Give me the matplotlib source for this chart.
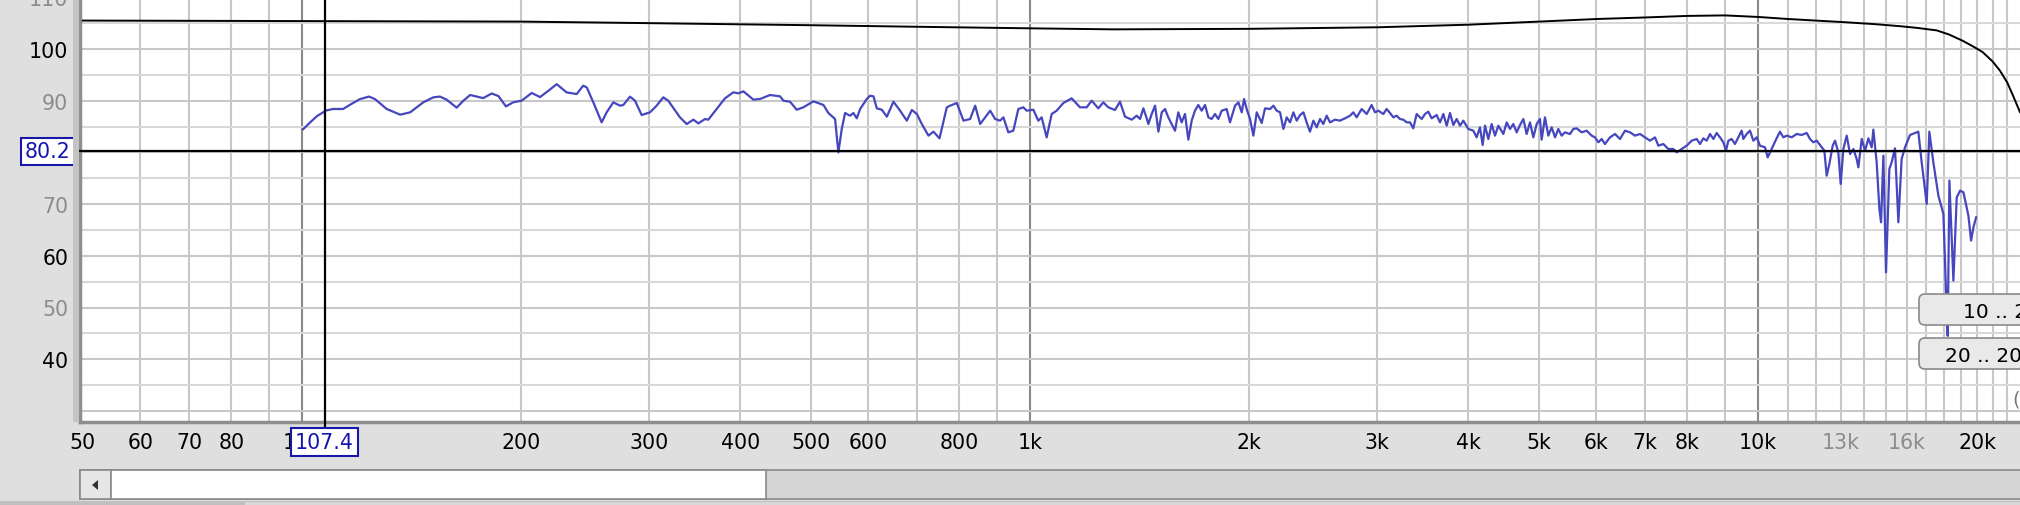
import numpy as np
import matplotlib.pyplot as plt
from matplotlib.patches import Rectangle, FancyBboxPatch, Polygon
from matplotlib.ticker import NullLocator
from matplotlib.transforms import IdentityTransform

W, H = 2020, 506

# Respuesta medida (azul): frecuencia en Hz, nivel en dB
freq_meas = [100.4, 102.6, 104.8, 107.9, 110.4, 113.9, 117.0, 120.1, 123.6, 126.0,
             130.7, 136.4, 140.8, 146.8, 151.5, 154.7, 158.0, 163.1, 166.6, 170.2,
             173.8, 177.4, 182.2, 186.1, 190.6, 195.1, 200.3, 206.8, 212.3, 217.9,
             223.8, 231.0,
             238.4, 243.4, 246.1, 251.3, 258.0, 262.1, 267.7, 273.4, 276.3, 282.2,
             286.7, 292.8, 300.6, 307.0, 313.5, 318.5, 330.5, 337.6, 344.8, 350.3,
             357.8, 361.5, 371.2, 381.1, 391.3, 397.6, 403.9, 416.9, 425.7, 439.5,
             453.6, 458.4, 468.1, 478.1, 488.3, 504.1, 520.3, 528.5, 539.8, 545.5,
             551.3, 557.2, 566.0, 572.0, 578.1, 584.3,
             596.8, 603.0, 609.5, 616.0, 625.8, 635.9, 649.3, 663.1, 677.3, 688.2,
             699.2, 710.2, 725.3, 736.9, 751.1, 768.6, 776.8, 793.4, 810.2, 827.5,
             840.8, 854.1, 881.7, 895.6, 909.6, 919.3, 933.7, 948.6, 963.8, 979.0,
             989.5, 1010.6, 1026.6, 1037.5, 1054.1, 1071.0, 1088.0, 1111.2, 1140.8, 1171.3,
             1196.3, 1215.4, 1241.4, 1260.9, 1281.1, 1308.5, 1329.2, 1350.6, 1379.4, 1401.3,
             1416.2,
             1431.3, 1446.5, 1454.1, 1469.5, 1485.2, 1501.0, 1517.0, 1532.8, 1548.8, 1565.3,
             1582.0, 1598.5, 1615.5, 1632.7, 1650.1, 1667.6, 1685.0, 1703.0, 1721.2, 1739.5,
             1758.0, 1776.3, 1795.3, 1814.4, 1833.7, 1862.7, 1882.5, 1912.7, 1933.0, 1953.6,
             1968.0, 1984.5, 2005.6, 2027.0, 2048.5, 2081.0, 2103.1, 2136.8, 2159.5, 2182.1,
             2205.3, 2228.8, 2252.5, 2276.0, 2300.2, 2324.7, 2349.4, 2374.5, 2398.8, 2424.3,
             2450.2, 2476.2, 2502.6, 2528.6, 2555.6, 2582.8, 2624.2, 2665.6, 2708.3, 2751.7,
             2780.3, 2809.9, 2854.9, 2900.6, 2946.4, 2977.8, 3009.5, 3057.0, 3089.6, 3122.4,
             3155.7, 3189.3, 3222.5, 3256.8, 3291.5, 3326.5, 3361.2, 3397.0, 3433.2,
             3451.5, 3488.2, 3525.4, 3562.1, 3619.1, 3657.6, 3696.6, 3735.9, 3774.8, 3815.0,
             3855.6, 3896.7, 3937.3, 4000.4, 4064.4, 4106.8, 4150.5, 4185.9, 4217.0, 4261.9,
             4307.2, 4352.1, 4398.4, 4468.9, 4516.4, 4563.5, 4612.1, 4661.2, 4710.8, 4761.0,
             4810.6, 4861.8, 4913.6, 4965.9, 5017.6, 5044.3, 5098.0, 5152.3, 5207.1, 5262.5,
             5317.3, 5373.9, 5431.1, 5518.1, 5575.6, 5635.0, 5725.2, 5817.0, 5908.8, 5971.7,
             6035.3, 6099.6, 6163.1, 6261.8, 6362.3, 6462.7, 6566.3, 6671.5, 6776.8, 6885.3,
             6995.5, 7106.0, 7219.8, 7296.6, 7413.1, 7530.2, 7650.8, 7732.3, 7856.2, 7979.9,
             8107.7, 8237.6, 8323.4,
             8412, 8502, 8592, 8684, 8774, 8867, 8962, 9037, 9105, 9200,
             9298, 9397, 9497, 9548, 9647, 9750, 9854, 9959, 10062, 10224,
             10311, 10442, 10585, 10720, 10834, 10950, 11125, 11301, 11482, 11666,
             11788, 11913, 12040, 12233, 12335, 12426, 12532, 12665, 12759, 12892,
             12990, 13099, 13239, 13380, 13522, 13663, 13736, 13882, 14030, 14180,
             14327, 14403, 14555, 14680, 14758, 14867, 14991, 15151, 15263, 15424,
             15589, 15751, 15919, 16174, 16434, 16605, 16782, 17051, 17193, 17413,
             17692, 17976, 18126, 18222, 18319, 18552, 18749, 18949, 19151, 19454,
             19620, 19766, 19935]
spl_meas = [84.5, 85.8, 87.0, 88.1, 88.4, 88.4, 89.4, 90.3, 90.8, 90.3,
            88.4, 87.3, 87.75, 89.7, 90.65, 90.8, 90.2, 88.65, 90.0, 91.1,
            90.8, 90.5, 91.4, 90.9, 88.9, 89.7, 90.0, 91.5, 90.7, 91.9,
            93.2, 91.6,
            91.29, 92.91, 92.58, 89.68, 85.81, 87.75, 89.68, 89.04, 89.17, 90.78,
            90.0, 87.23, 87.75, 89.04, 90.65, 90.0, 86.78, 85.49, 86.33, 85.62,
            86.46, 86.33, 88.39, 90.46, 91.62, 91.42, 91.81, 90.2, 90.33, 91.1,
            90.84, 90.0, 89.81, 88.26, 88.72, 89.88, 89.17, 87.62, 86.46, 80.0,
            84.5, 87.62, 87.1, 87.62, 86.59, 88.39,
            90.33, 90.97, 90.84, 88.52, 88.26, 86.91, 89.81, 88.07, 86.14, 88.2,
            87.43, 85.49, 83.24, 84.01, 82.72, 88.72, 89.04, 89.55, 86.14, 86.46,
            89.04, 85.49, 88.07, 86.46, 86.14, 86.78, 83.88, 84.2, 88.39, 88.72,
            88.07, 88.26, 86.14, 86.78, 82.91, 87.43, 88.07, 89.55, 90.46, 88.72,
            88.72, 90.0, 88.52, 89.68, 88.72, 88.2, 89.81, 86.91, 86.33, 87.1,
            86.46,
            88.52, 86.59, 85.49, 87.43, 89.04, 84.01, 87.75, 88.39, 86.78, 85.49,
            84.2, 87.75, 85.81, 87.43, 82.46, 86.14, 88.07, 89.17, 88.07, 89.17,
            86.78, 86.46, 87.43, 86.46, 88.07, 88.39, 85.81, 89.04, 89.68, 87.75,
            90.33, 88.39, 86.46, 83.24, 87.75, 85.69, 88.52, 88.39, 89.04, 88.07,
            87.75, 84.53, 86.78, 85.81, 87.75, 86.14, 87.23, 87.75, 85.81, 84.01,
            86.14, 84.85, 86.46, 85.49, 87.1, 85.81, 86.33, 86.14, 86.59, 87.1,
            87.75, 86.78, 88.39, 87.43, 89.17, 87.75, 88.07, 87.43, 88.39, 87.62,
            86.78, 87.1, 86.46, 86.33, 85.81, 85.81, 84.65, 87.43, 86.78,
            86.46, 87.43, 87.88, 86.59, 87.23, 85.81, 87.43, 85.17, 87.62, 85.3,
            86.46, 85.17, 86.14, 84.53, 84.2, 82.91, 84.85, 81.43, 85.17, 82.59,
            85.49, 83.24, 85.17, 83.56, 85.81, 84.53, 85.49, 83.88, 85.3, 86.46,
            83.56, 85.81, 82.91, 85.49, 86.46, 82.46, 86.78, 83.24, 84.85, 82.91,
            84.53, 83.24, 83.88, 83.56, 84.53, 84.65, 83.88, 84.2, 83.24, 82.91,
            81.95, 82.59, 81.62, 82.91, 83.56, 82.59, 84.2, 83.88, 83.24, 83.56,
            82.91, 82.27, 82.91, 81.3, 81.62, 80.66, 80.66, 80.01, 80.66, 81.3,
            82.27, 82.59, 81.62,
            82.72, 82.27, 83.56, 82.6, 83.76, 82.92, 81.95, 80.34, 82.27, 82.6,
            81.63, 82.92, 84.21, 82.6, 83.56, 84.21, 82.27, 82.92, 81.31, 80.98,
            79.05, 80.66, 82.47, 84.01, 82.92, 83.24, 82.92, 83.56, 83.37, 83.76,
            82.6, 81.95, 82.27, 80.98, 80.34, 75.5, 77.76, 81.31, 82.27, 80.02,
            73.89, 80.66, 83.24, 79.69, 80.66, 78.73, 77.11, 82.6, 80.34, 82.72,
            80.98, 84.4, 78.08, 69.06, 66.48, 79.37, 56.81, 76.79, 78.08, 80.79,
            66.48, 78.73, 80.98, 83.37, 83.76, 84.01, 78.08, 70.02, 84.01, 78.08,
            71.64, 68.09, 52.94, 44.5, 74.54, 55.2, 71.31, 72.6, 72.28, 67.77,
            62.93, 65.51, 67.45]

# Curva de referencia (negra)
freq_ref = [50, 100, 200, 300, 500, 700, 1000, 1300, 2000, 3000, 4000, 5000, 6000,
            7000, 8000, 9000, 10000, 11000, 12000, 13100, 14500, 15700, 16500, 17600,
            18300, 19100, 19800, 20350, 21000, 21500, 22000, 22400, 22900]
spl_ref = [105.5, 105.4, 105.3, 105.0, 104.6, 104.3, 104.0, 103.8, 103.9, 104.2, 104.7,
           105.3, 105.8, 106.1, 106.4, 106.5, 106.2, 105.8, 105.5, 105.2, 104.8, 104.4,
           104.1, 103.6, 102.8, 101.6, 100.4, 99.4, 97.6, 95.8, 93.5, 91.0, 87.8]

# Cursor
cursor_f = 107.4
cursor_db = 80.2

x_ticks = [50, 60, 70, 80, 100, 200, 300, 400, 500, 600, 800, 1000, 2000, 3000, 4000,
           5000, 6000, 7000, 8000, 10000, 13000, 16000, 20000]
x_labels = ['50', '60', '70', '80', '100', '200', '300', '400', '500', '600', '800', '1k',
            '2k', '3k', '4k', '5k', '6k', '7k', '8k', '10k', '13k', '16k', '20k']
x_gray = ['13k', '16k']
y_ticks = [40, 50, 60, 70, 80, 90, 100, 110]
y_gray = [50, 70, 90, 110]

grid_x = [60, 70, 80, 90, 200, 300, 400, 500, 600, 700, 800, 900,
          2000, 3000, 4000, 5000, 6000, 7000, 8000, 9000,
          11000, 12000, 13000, 14000, 15000, 16000, 17000, 18000, 19000, 20000, 21000, 22000]
grid_x_dark = [100, 1000, 10000]
grid_y = list(range(30, 115, 5))

plt.rcParams['font.family'] = 'DejaVu Sans'
fig = plt.figure(figsize=(W / 100, H / 100), dpi=100, facecolor='#dfdfdf')

# mapeo en pixeles de la captura
X1K, DEC = 1030, 728
Y100, PXDB = 50, 5.17
AX_L, AX_R, AX_B, AX_T = 80, 2040, 423, -15

ax = fig.add_axes([AX_L / W, 1 - AX_B / H, (AX_R - AX_L) / W, (AX_B - AX_T) / H])
ax.set_xscale('log')
ax.set_xlim(10 ** (3 + (AX_L - X1K) / DEC), 10 ** (3 + (AX_R - X1K) / DEC))
ax.set_ylim(100 - (AX_B - Y100) / PXDB, 100 + (Y100 - AX_T) / PXDB)
ax.set_facecolor('white')

for f in grid_x:
    ax.axvline(f, color='#c8c8c8', lw=1.5, zorder=0)
for f in grid_x_dark:
    ax.axvline(f, color='#8a8a8a', lw=1.5, zorder=0)
for v in grid_y:
    ax.axhline(v, color='#c8c8c8' if v % 10 == 0 else '#d8d8d8', lw=1.5, zorder=0)

ax.plot(freq_ref, spl_ref, color='black', lw=1.4, zorder=3)
ax.plot(freq_meas, spl_meas, color='#4646bf', lw=1.6, zorder=4)

ax.axvline(cursor_f, ymin=-5 / (AX_B - AX_T), color='black', lw=1.6, zorder=5, clip_on=False)
ax.axhline(cursor_db, xmin=-4 / (AX_R - AX_L), color='black', lw=1.6, zorder=5, clip_on=False)

ax.xaxis.set_minor_locator(NullLocator())
ax.yaxis.set_minor_locator(NullLocator())
ax.set_xticks(x_ticks, x_labels)
ax.set_yticks(y_ticks, [str(v) for v in y_ticks])
ax.tick_params(axis='both', length=0, labelsize=14.8)
ax.tick_params(axis='x', pad=7)
ax.tick_params(axis='y', pad=8.5)
for lab in ax.get_xticklabels():
    lab.set_color('#8c8c8c' if lab.get_text() in x_gray else 'black')
for lab, v in zip(ax.get_yticklabels(), y_ticks):
    lab.set_color('#8c8c8c' if v in y_gray else 'black')

for s in ['top', 'right']:
    ax.spines[s].set_visible(False)
for s in ['left', 'bottom']:
    ax.spines[s].set_color('#8e8e8e')
    ax.spines[s].set_linewidth(2.5)

box = dict(boxstyle='square,pad=0.18', fc='white', ec='#1818a8', lw=1.5)
ax.annotate(f'{cursor_db}', xy=(0, cursor_db), xycoords=('axes fraction', 'data'),
            xytext=(-32, 0), textcoords='offset pixels', ha='center', va='center',
            fontsize=14.8, color='#1414b0', bbox=box, annotation_clip=False, zorder=10)
ax.annotate(f'{cursor_f}', xy=(cursor_f, 0), xycoords=('data', 'axes fraction'),
            xytext=(0, -20), textcoords='offset pixels', ha='center', va='center',
            fontsize=14.8, color='#1414b0', bbox=box, annotation_clip=False, zorder=10)

px = IdentityTransform()

# sombra del borde izquierdo
fig.add_artist(Rectangle((73, H - AX_B), 6, AX_B, fc='#c4c4c4', ec='none', transform=px, zorder=0.5))

# botones de rango
for y0, txt, tx in [(295, '10 .. 20k', 1963), (339, '20 .. 20k', 1945)]:
    fig.add_artist(FancyBboxPatch((1919, H - y0 - 31), 120, 31,
                                  boxstyle='round,pad=0,rounding_size=6',
                                  fc='#e9e9e9', ec='#8a8a8a', lw=1.2, transform=px, zorder=6))
    fig.text(tx / W, 1 - (y0 + 17) / H, txt, fontsize=14.5, ha='left', va='center',
             color='black', zorder=7)
fig.text(2012 / W, 1 - 400 / H, '(', fontsize=14, color='#777777', va='center')

# barra de desplazamiento
fig.add_artist(Rectangle((80, H - 500), 1950, 29, fc='#d4d4d4', ec='#8a8a8a', lw=1.2, transform=px, zorder=1))
fig.add_artist(Rectangle((80, H - 500), 31, 29, fc='#e6e6e6', ec='#8a8a8a', lw=1.2, transform=px, zorder=2))
fig.add_artist(Polygon([(92, H - 486), (98, H - 481), (98, H - 491)], closed=True,
                       fc='#333333', ec='none', transform=px, zorder=3))
fig.add_artist(Rectangle((111, H - 500), 655, 29, fc='white', ec='#8a8a8a', lw=1.2, transform=px, zorder=2))
fig.add_artist(Rectangle((0, 0), W, H - 502, fc='#c0c0c0', ec='none', transform=px, zorder=1))
fig.add_artist(Rectangle((245, 0), W, H - 503, fc='#d8d8d8', ec='none', transform=px, zorder=1))

fig.savefig('out.png', dpi=100, facecolor=fig.get_facecolor())
